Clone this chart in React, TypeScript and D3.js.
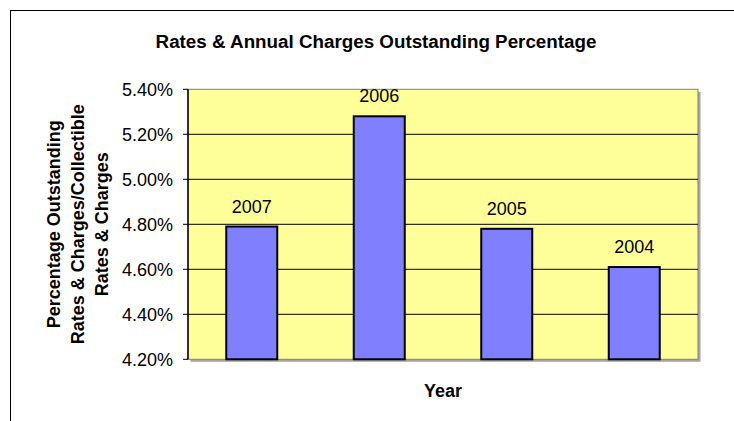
import React from "react";
import * as d3 from "d3";

const categories: string[] = ["2007", "2006", "2005", "2004"];
const values: number[] = [4.79, 5.28, 4.78, 4.61];
const yTicks: number[] = [4.2, 4.4, 4.6, 4.8, 5.0, 5.2, 5.4];
const titleText = "Rates & Annual Charges Outstanding Percentage";
const yTitleLines: string[] = ["Percentage Outstanding", "Rates & Charges/Collectible", "Rates & Charges"];
const xTitle = "Year";

const W = 734;
const H = 421;
const plot = { left: 188, right: 698, top: 89.3, bottom: 359.3 };
const FONT = "Arial, 'Liberation Sans', sans-serif";

export default function App() {
  const x = d3
    .scaleBand<string>()
    .domain(categories)
    .range([plot.left, plot.right])
    .paddingInner(0.6)
    .paddingOuter(0.3);
  const y = d3.scaleLinear().domain([4.2, 5.4]).range([plot.bottom, plot.top]);
  const pw = plot.right - plot.left;
  const ph = plot.bottom - plot.top;
  const yMid = (plot.top + plot.bottom) / 2;

  return (
    <svg
      width={W}
      height={H}
      style={{ position: "absolute", left: 0, top: 0, background: "#fff" }}
      fontFamily={FONT}
    >
      {/* chart area border */}
      <rect x={10.5} y={10.5} width={760} height={460} fill="#fff" stroke="#000" strokeWidth={1} />

      {/* title */}
      <text x={376} y={48} textAnchor="middle" fontSize={18.8} fontWeight="bold" fill="#000">
        {titleText}
      </text>

      {/* plot area shadow */}
      <rect x={plot.left + 2.5} y={plot.top + 2.5} width={pw} height={ph} fill="#a6a6a6" />
      {/* plot area */}
      <rect x={plot.left} y={plot.top} width={pw} height={ph} fill="#FFFF99" stroke="#808080" strokeWidth={1} />

      {/* gridlines */}
      {yTicks.slice(1, -1).map((t) => (
        <line key={"g" + t} x1={plot.left} x2={plot.right} y1={y(t)} y2={y(t)} stroke="#000" strokeWidth={1} />
      ))}

      {/* bars */}
      {categories.map((c, i) => (
        <g key={c}>
          <rect
            x={x(c)!}
            y={y(values[i])}
            width={x.bandwidth()}
            height={plot.bottom - y(values[i])}
            fill="#8080FF"
            stroke="#000"
            strokeWidth={2}
          />
          <text
            x={x(c)! + x.bandwidth() / 2}
            y={y(values[i]) - 14}
            textAnchor="middle"
            fontSize={18}
            fill="#000"
          >
            {c}
          </text>
        </g>
      ))}

      {/* y axis */}
      <line x1={plot.left} x2={plot.left} y1={plot.top} y2={plot.bottom} stroke="#000" strokeWidth={1.5} />
      {yTicks.map((t) => (
        <g key={"t" + t}>
          <line x1={plot.left - 5} x2={plot.left} y1={y(t)} y2={y(t)} stroke="#000" strokeWidth={1} />
          <text x={173} y={y(t) + 6.5} textAnchor="end" fontSize={18} fill="#000">
            {d3.format(".2f")(t) + "%"}
          </text>
        </g>
      ))}

      {/* y axis title */}
      {yTitleLines.map((line, i) => (
        <text
          key={line}
          transform={`translate(${60 + i * 24},${yMid}) rotate(-90)`}
          textAnchor="middle"
          fontSize={18}
          fontWeight="bold"
          fill="#000"
        >
          {line}
        </text>
      ))}

      {/* x axis title */}
      <text x={(plot.left + plot.right) / 2} y={397} textAnchor="middle" fontSize={18} fontWeight="bold" fill="#000">
        {xTitle}
      </text>
    </svg>
  );
}
